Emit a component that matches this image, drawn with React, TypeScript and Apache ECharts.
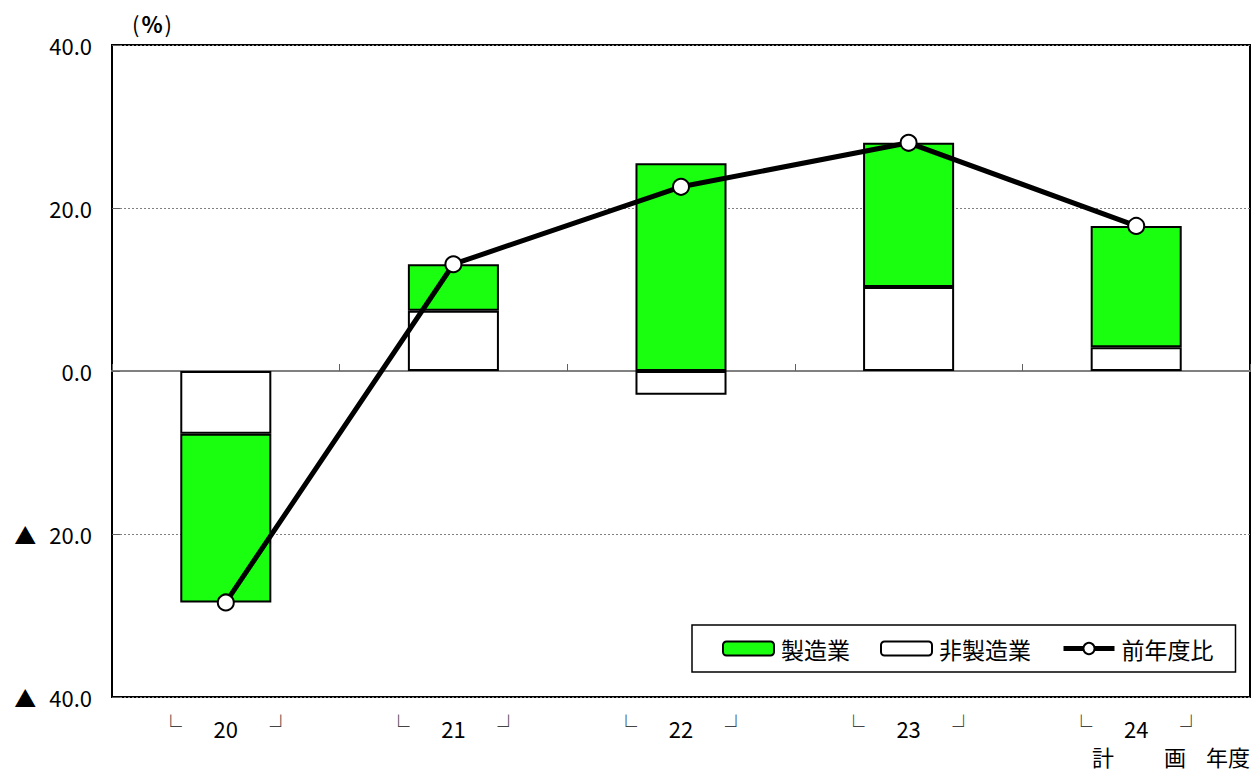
import React, { useEffect, useRef } from "react";
import * as echarts from "echarts";

const categories = ["20", "21", "22", "23", "24"];
const manufacturing = [-20.7, 5.7, 25.5, 17.7, 14.9];
const nonManufacturing = [-7.7, 7.4, -2.9, 10.3, 2.9];
const yoy = [-28.4, 13.1, 22.6, 28.0, 17.8];
const seriesNames = ["製造業", "非製造業", "前年度比"];
const yTicks = { min: -40, max: 40, interval: 20 };

const FONT = "'Noto Sans CJK JP', 'Noto Sans', sans-serif";

export default function App() {
  const ref = useRef<HTMLDivElement>(null);
  useEffect(() => {
    if (!ref.current) return;
    const chart = echarts.init(ref.current, null, { renderer: "svg" });
    chart.setOption({
      animation: false,
      textStyle: { fontFamily: FONT, color: "#000" },
      grid: {
        left: 112,
        right: 5,
        top: 45,
        bottom: 74,
        show: true,
        borderColor: "#000",
        borderWidth: 2,
        backgroundColor: "transparent",
      },
      legend: {
        data: [
          { name: seriesNames[0] },
          { name: seriesNames[1] },
          { name: seriesNames[2], lineStyle: { width: 5, color: "#000" }, itemStyle: { color: "#fff", borderColor: "#000", borderWidth: 2 } },
        ],
        left: 692,
        top: 625,
        orient: "horizontal",
        borderColor: "#000",
        borderWidth: 1.5,
        borderRadius: 0,
        padding: [12, 22, 12, 30],
        itemWidth: 51,
        itemHeight: 14,
        itemGap: 30,
        textStyle: { fontSize: 23, fontFamily: FONT, color: "#000", padding: [0, 0, 0, 2] },
      },
      xAxis: [
        {
          type: "category",
          data: categories,
          axisLine: { show: true, onZero: true, lineStyle: { color: "#808080", width: 2 } },
          axisTick: { show: true, inside: true, length: 7, lineStyle: { color: "#606060", width: 1 } },
          axisLabel: { show: false },
          splitLine: { show: false },
        },
        {
          type: "category",
          data: categories,
          position: "bottom",
          axisLine: { show: false, onZero: false },
          axisTick: { show: false },
          splitLine: { show: false },
          axisLabel: {
            margin: 16,
            formatter: (v: string) => `{l|└}{v|${v}}{r|┘}`,
            rich: {
              l: { width: 22, align: "left", fontSize: 22, fontFamily: FONT, color: "#444", verticalAlign: "top", padding: [0, 0, 8, 0] },
              v: { width: 88, align: "center", fontSize: 22, fontFamily: FONT, color: "#000" },
              r: { width: 22, align: "right", fontSize: 22, fontFamily: FONT, color: "#444", verticalAlign: "top", padding: [0, 0, 8, 0] },
            },
          },
        },
      ],
      yAxis: {
        type: "value",
        min: yTicks.min,
        max: yTicks.max,
        interval: yTicks.interval,
        axisLine: { show: false },
        axisTick: { show: true, inside: true, length: 8, lineStyle: { color: "#606060" } },
        splitLine: { show: true, lineStyle: { color: "#808080", type: [2, 2], width: 1 } },
        axisLabel: {
          margin: 20,
          formatter: (v: number) =>
            v < 0 ? `{t|▲}{n|${Math.abs(v).toFixed(1)}}` : `{n|${v.toFixed(1)}}`,
          rich: {
            t: { fontSize: 22, fontFamily: FONT, color: "#000", width: 35, align: "left" },
            n: { fontSize: 22, fontFamily: FONT, color: "#000" },
          },
        },
      },
      graphic: [
        {
          type: "text",
          left: 132,
          top: 12,
          style: {
            text: "{p|(}{b|%}{p|)}",
            rich: {
              p: { fontSize: 22, fontFamily: FONT, fill: "#000", padding: [0, 2, 0, 2] },
              b: { fontSize: 22, fontFamily: FONT, fill: "#000", fontWeight: "bold" },
            },
          },
        },
        { type: "text", left: 1092, top: 745, style: { text: "計", fontSize: 22, fontFamily: FONT, fill: "#000" } },
        { type: "text", left: 1164, top: 745, style: { text: "画", fontSize: 22, fontFamily: FONT, fill: "#000" } },
        { type: "text", left: 1206, top: 745, style: { text: "年度", fontSize: 22, fontFamily: FONT, fill: "#000" } },
      ],
      series: [
        {
          name: "非製造業",
          type: "bar",
          stack: "total",
          data: nonManufacturing,
          barWidth: "40%",
          itemStyle: { color: "#ffffff", borderColor: "#000", borderWidth: 2 },
          z: 3,
        },
        {
          name: "製造業",
          type: "bar",
          stack: "total",
          data: manufacturing,
          barWidth: "40%",
          itemStyle: { color: "#1aff10", borderColor: "#000", borderWidth: 2 },
          z: 3,
        },
        {
          name: "前年度比",
          type: "line",
          data: yoy,
          symbol: "circle",
          symbolSize: 16,
          lineStyle: { color: "#000", width: 5 },
          itemStyle: { color: "#fff", borderColor: "#000", borderWidth: 2 },
          z: 5,
        },
      ],
    });
    return () => chart.dispose();
  }, []);
  return <div ref={ref} style={{ position: "absolute", left: 0, top: 0, width: 1255, height: 771 }} />;
}
